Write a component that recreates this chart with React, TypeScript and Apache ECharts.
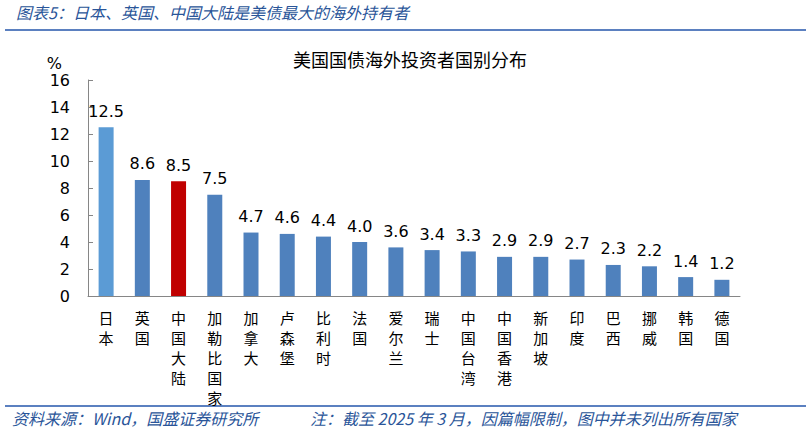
import { useEffect, useRef } from 'react'
import * as echarts from 'echarts'

// categories and values
const countries = ['日本', '英国', '中国大陆', '加勒比国家', '加拿大', '卢森堡', '比利时', '法国', '爱尔兰', '瑞士', '中国台湾', '中国香港', '新加坡', '印度', '巴西', '挪威', '韩国', '德国']
const holdings = [12.5, 8.6, 8.5, 7.5, 4.7, 4.6, 4.4, 4.0, 3.6, 3.4, 3.3, 2.9, 2.9, 2.7, 2.3, 2.2, 1.4, 1.2]

const BLUE = '#4F81BD'
const LIGHT_BLUE = '#5B9BD5'
const RED = '#C00000'
const CJK = '"Noto Sans CJK SC", sans-serif'
const HEAD_COLOR = '#2A5599'

export default function App() {
  const chartRef = useRef<HTMLDivElement>(null)

  useEffect(() => {
    if (!chartRef.current) return
    const chart = echarts.init(chartRef.current, undefined, { renderer: 'svg' })

    const colorFor = (name: string) => {
      if (name === '日本') return LIGHT_BLUE
      if (name === '中国大陆') return RED
      return BLUE
    }

    const option: echarts.EChartsOption = {
      animation: false,
      backgroundColor: '#fff',
      title: {
        text: '美国国债海外投资者国别分布',
        left: 405,
        top: 45,
        textAlign: 'center',
        textStyle: { fontFamily: CJK, fontSize: 18, fontWeight: 'normal', color: '#000' }
      },
      grid: { left: 88, right: 71, top: 80, bottom: 137 },
      xAxis: {
        type: 'category',
        data: countries,
        axisLine: { lineStyle: { color: '#868686' } },
        axisTick: { inside: true, length: 5, lineStyle: { color: '#868686' } },
        axisLabel: {
          interval: 0,
          margin: 11,
          fontFamily: CJK,
          fontSize: 15,
          lineHeight: 20,
          color: '#000',
          verticalAlign: 'top',
          formatter: (v: string) => v.split('').join('\n')
        }
      },
      yAxis: {
        type: 'value',
        name: '%',
        nameLocation: 'end',
        nameGap: 9,
        nameTextStyle: { fontFamily: 'DejaVu Sans', fontSize: 16, lineHeight: 16, color: '#000', align: 'right', verticalAlign: 'bottom', padding: [0, 26, 0, 0] },
        min: 0,
        max: 16,
        interval: 2,
        axisLine: { show: true, lineStyle: { color: '#868686' } },
        axisTick: { show: true, inside: true, length: 5, lineStyle: { color: '#868686' } },
        splitLine: { show: false },
        axisLabel: { fontFamily: 'DejaVu Sans', fontSize: 16, color: '#000', margin: 18 }
      },
      series: [{
        type: 'bar',
        barWidth: 15,
        data: holdings.map((v, i) => ({ value: v, itemStyle: { color: colorFor(countries[i]) } })),
        label: {
          show: true,
          position: 'top',
          distance: 8,
          fontFamily: 'DejaVu Sans',
          fontSize: 16,
          color: '#000',
          formatter: (p: any) => p.value.toFixed(1)
        }
      }],
      graphic: [
        {
          type: 'text', left: 16, top: 4,
          style: { text: '图表5：日本、英国、中国大陆是美债最大的海外持有者', font: `italic 16px ${CJK}`, fill: HEAD_COLOR }
        },
        {
          type: 'line', shape: { x1: 5, y1: 30, x2: 806, y2: 30 },
          style: { stroke: '#5B80C0', lineWidth: 2 }
        },
        {
          type: 'line', shape: { x1: 5, y1: 406, x2: 806, y2: 406 },
          style: { stroke: '#5B80C0', lineWidth: 2 }
        },
        {
          type: 'text', left: 12, top: 410,
          style: { text: '资料来源：Wind，国盛证券研究所', font: `italic 16px ${CJK}`, fill: HEAD_COLOR }
        },
        {
          type: 'text', left: 310, top: 410,
          style: { text: '注：截至 2025 年 3 月，因篇幅限制，图中并未列出所有国家', font: `italic 16px ${CJK}`, fill: HEAD_COLOR }
        }
      ]
    }

    chart.setOption(option)
    return () => {
      chart.dispose()
    }
  }, [])

  return <div ref={chartRef} style={{ position: 'absolute', left: 0, top: 0, width: 811, height: 433 }} />
}
